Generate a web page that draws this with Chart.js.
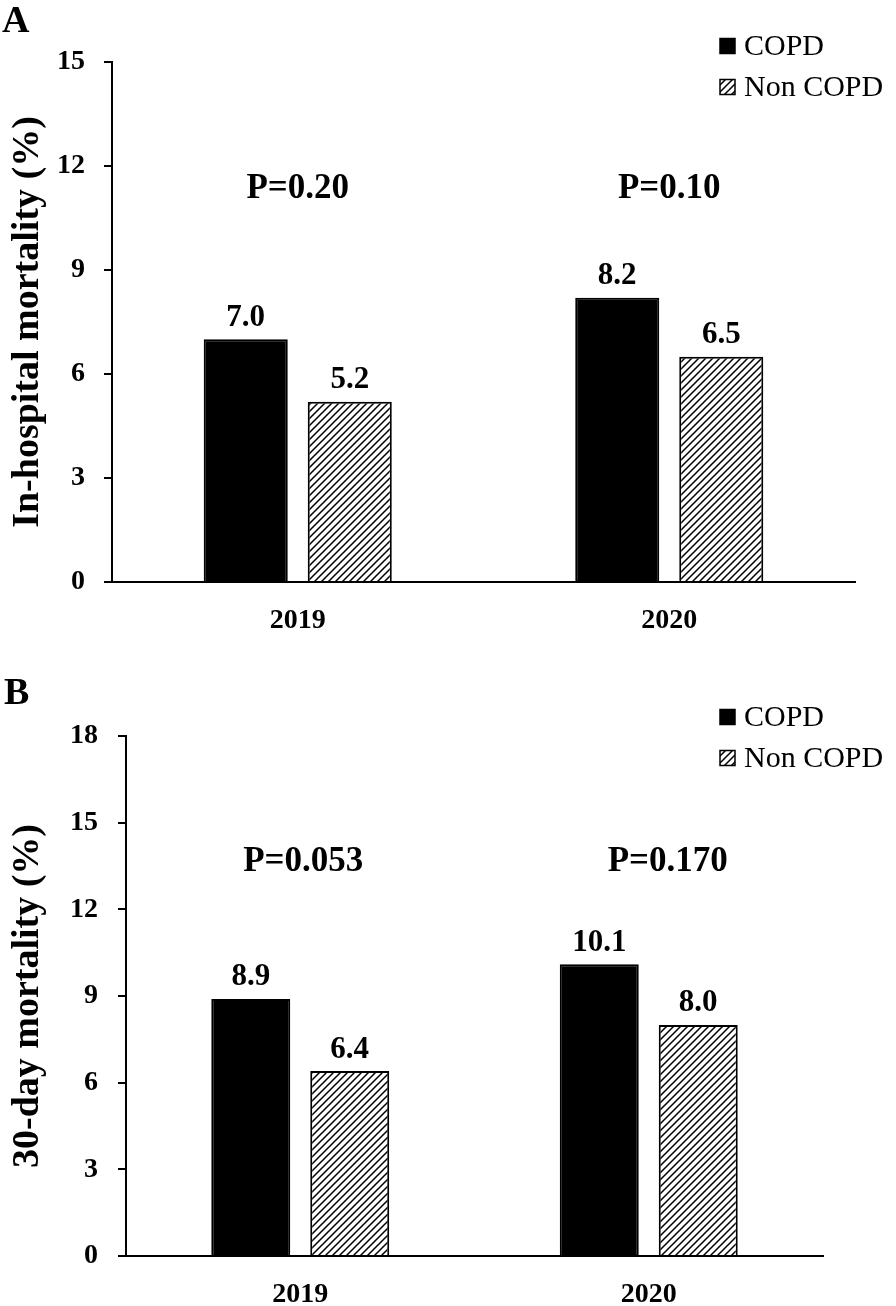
<!DOCTYPE html>
<html>
<head>
<meta charset="utf-8">
<script src="https://cdn.jsdelivr.net/npm/chart.js@4.4.1/dist/chart.umd.min.js"></script>
<style>
  html, body { margin: 0; padding: 0; background: #fff; }
  body { width: 896px; height: 1306px; position: relative; overflow: hidden; }
  canvas { position: absolute; left: 0; }
  #cA { top: 0; }
  #cB { top: 650px; }
</style>
</head>
<body>
<canvas id="cA" width="896" height="650"></canvas>
<canvas id="cB" width="896" height="656"></canvas>
<script>
// ---- data ----
const categories = ['2019', '2020'];
const seriesNames = ['COPD', 'Non COPD'];
const copdInHospital = [7.0, 8.2];
const nonCopdInHospital = [5.2, 6.5];
const copd30Day = [8.9, 10.1];
const nonCopd30Day = [6.4, 8.0];
const pLabelsA = ['P=0.20', 'P=0.10'];
const pLabelsB = ['P=0.053', 'P=0.170'];
const yTitleA = 'In-hospital mortality (%)';
const yTitleB = '30-day mortality (%)';
const yMaxA = 15, yMaxB = 18, yStep = 3;

const SERIF = '"Liberation Serif", "Times New Roman", Times, serif';

function makeHatch(ctx) {
  const s = 7;
  const c = document.createElement('canvas');
  c.width = s; c.height = s;
  const g = c.getContext('2d');
  g.fillStyle = '#fff';
  g.fillRect(0, 0, s, s);
  g.strokeStyle = '#000';
  g.lineWidth = 1.5;
  g.beginPath();
  g.moveTo(-1, s + 1); g.lineTo(s + 1, -1);
  g.moveTo(-1, 1); g.lineTo(1, -1);
  g.moveTo(s - 1, s + 1); g.lineTo(s + 1, s - 1);
  g.stroke();
  return ctx.createPattern(c, 'repeat');
}

const annotPlugin = {
  id: 'annot',
  afterDatasetsDraw(chart, args, opts) {
    const ctx = chart.ctx;
    const xs = chart.scales.x, ys = chart.scales.y;
    ctx.save();
    // value labels
    ctx.fillStyle = '#000';
    ctx.textAlign = 'center';
    ctx.textBaseline = 'bottom';
    ctx.font = 'bold 31px ' + SERIF;
    chart.data.datasets.forEach((ds, di) => {
      const meta = chart.getDatasetMeta(di);
      meta.data.forEach((el, i) => {
        ctx.fillText(ds.data[i].toFixed(1), el.x, el.y - 6);
      });
    });
    // P labels
    ctx.font = 'bold 35px ' + SERIF;
    ctx.textBaseline = 'middle';
    opts.pLabels.forEach((t, i) => {
      ctx.fillText(t, xs.getPixelForValue(i) + opts.pShift[i], ys.getPixelForValue(opts.pLevel));
    });
    // panel letter
    ctx.textAlign = 'left';
    ctx.font = 'bold 38px ' + SERIF;
    ctx.fillText(opts.letter, opts.letterPos[0], opts.letterPos[1]);
    // legend
    const lx = opts.legendX, ly0 = chart.chartArea.top + opts.legendDy;
    ctx.font = '30px ' + SERIF;
    chart.data.datasets.forEach((ds, di) => {
      const cy = ly0 + di * 41;
      ctx.fillStyle = ds.backgroundColor;
      ctx.fillRect(lx, cy - 7.5, 15, 15);
      ctx.strokeStyle = '#000';
      ctx.lineWidth = 1.5;
      ctx.strokeRect(lx, cy - 7.5, 15, 15);
      ctx.fillStyle = '#000';
      ctx.textBaseline = 'middle';
      ctx.fillText(ds.label, lx + 24, cy + 1);
    });
    ctx.restore();
  }
};

function buildChart(id, copd, nonCopd, yMax, title, cfg) {
  const canvas = document.getElementById(id);
  const ctx = canvas.getContext('2d');
  const hatch = makeHatch(ctx);
  return new Chart(ctx, {
    type: 'bar',
    data: {
      labels: categories,
      datasets: [
        { label: seriesNames[0], data: copd, backgroundColor: '#000', borderColor: '#000', borderWidth: 2 },
        { label: seriesNames[1], data: nonCopd, backgroundColor: hatch, borderColor: '#000', borderWidth: 2 }
      ]
    },
    options: {
      responsive: false,
      animation: false,
      devicePixelRatio: 1,
      categoryPercentage: cfg.catPct,
      barPercentage: cfg.barPct,
      layout: { padding: { left: 0, right: cfg.padRight, top: cfg.padTop, bottom: 0 } },
      plugins: {
        legend: { display: false },
        tooltip: { enabled: false },
        annot: cfg.annot
      },
      scales: {
        x: {
          grid: { display: true, drawOnChartArea: false, drawTicks: false, color: '#000' },
          border: { display: true, color: '#000', width: 2 },
          ticks: { color: '#000', font: { family: SERIF, size: 28, weight: 'bold' }, padding: cfg.xPad },
          afterFit(s) { s.height = cfg.xHeight; }
        },
        y: {
          min: 0, max: yMax,
          ticks: { stepSize: yStep, color: '#000', font: { family: SERIF, size: 28, weight: 'bold' }, padding: cfg.yPad },
          grid: { display: true, drawOnChartArea: false, drawTicks: true, tickLength: 8, color: '#000', lineWidth: 2 },
          border: { display: true, color: '#000', width: 2 },
          title: { display: true, text: title, color: '#000', font: { family: SERIF, size: 38, weight: 'bold' }, padding: { top: 5, bottom: 0 } },
          afterFit(s) { s.width = cfg.yWidth; }
        }
      }
    },
    plugins: [annotPlugin]
  });
}

buildChart('cA', copdInHospital, nonCopdInHospital, yMaxA, yTitleA, {
  padRight: 41, padTop: 62, xHeight: 68, yWidth: 112, yPad: 19, xPad: 22,
  catPct: 0.56, barPct: 0.808,
  annot: { pLabels: pLabelsA, pShift: [0, 0], pLevel: 11.35, letter: 'A', letterPos: [2, 22], legendX: 720, legendDy: -16 }
});

buildChart('cB', copd30Day, nonCopd30Day, yMaxB, yTitleB, {
  padRight: 73, padTop: 86, xHeight: 50, yWidth: 126, yPad: 20, xPad: 22,
  catPct: 0.568, barPct: 0.798,
  annot: { pLabels: pLabelsB, pShift: [3, 19], pLevel: 13.65, letter: 'B', letterPos: [4, 44], legendX: 720, legendDy: -19 }
});
</script>
</body>
</html>
